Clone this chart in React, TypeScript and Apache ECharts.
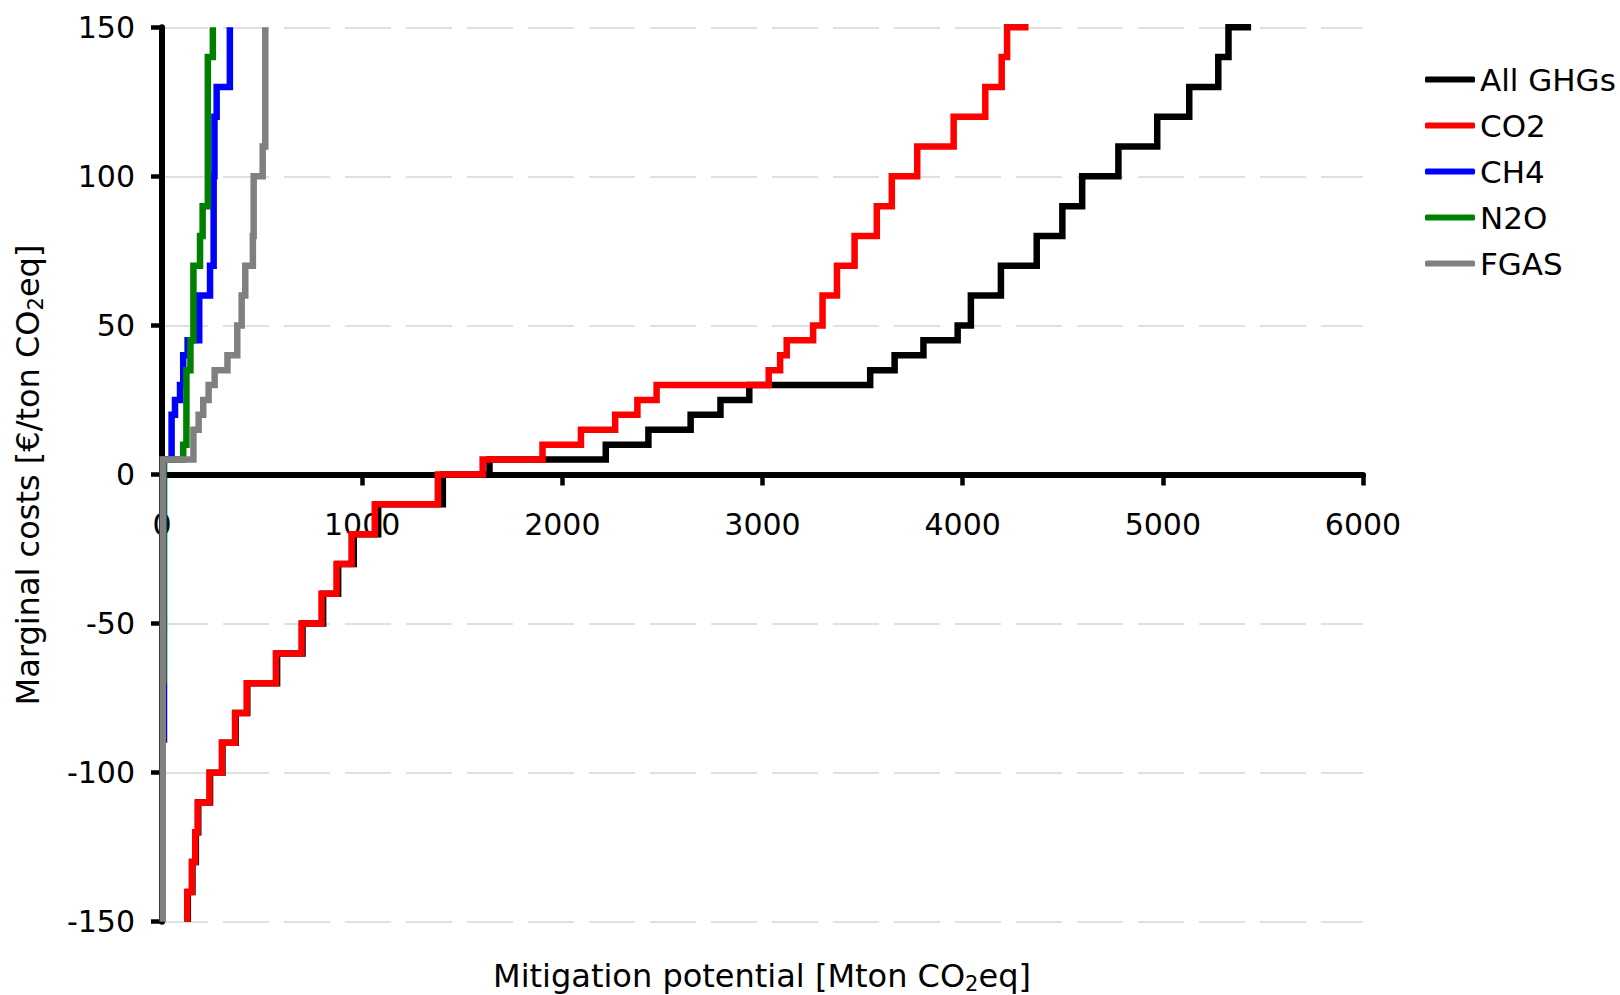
import React, { useEffect, useRef } from "react";
import * as echarts from "echarts";

// Step curves: each point = (cumulative potential where a cost level ends, cost level)
const allGhgX = [129, 152, 169, 181, 240, 302, 368, 426, 575, 702, 805, 880, 958, 1080, 1403, 1636, 2217, 2430, 2641, 2790, 2934, 3538, 3660, 3804, 3975, 4041, 4191, 4370, 4498, 4597, 4778, 4972, 5132, 5277, 5328, 5441];
const allGhgY = [-150, -140, -130, -120, -110, -100, -90, -80, -70, -60, -50, -40, -30, -20, -10, 0, 5, 10, 15, 20, 25, 30, 35, 40, 45, 50, 60, 70, 80, 90, 100, 110, 120, 130, 140, 150];

const co2X = [126, 149, 166, 178, 237, 299, 365, 423, 569, 697, 797, 872, 947, 1063, 1378, 1602, 1901, 2093, 2264, 2375, 2471, 3031, 3088, 3121, 3253, 3300, 3372, 3460, 3571, 3646, 3773, 3955, 4113, 4195, 4222, 4329];
const co2Y = [-150, -140, -130, -120, -110, -100, -90, -80, -70, -60, -50, -40, -30, -20, -10, 0, 5, 10, 15, 20, 25, 30, 35, 40, 45, 50, 60, 70, 80, 90, 100, 110, 120, 130, 140, 150];

const ch4X = [10, 48, 65, 90, 106, 128, 186, 240, 258, 262, 273, 339, 339];
const ch4Y = [-90, 5, 20, 25, 30, 40, 45, 60, 70, 100, 120, 130, 150];

const n2oX = [9, 106, 122, 142, 157, 190, 203, 229, 254, 254];
const n2oY = [-70, 5, 10, 35, 45, 70, 80, 90, 140, 150];

const fgasX = [4, 157, 183, 206, 233, 263, 327, 376, 398, 416, 454, 458, 503, 516, 516];
const fgasY = [-150, 5, 15, 20, 25, 30, 35, 40, 50, 60, 70, 80, 100, 110, 150];

const seriesNames = ["All GHGs", "CO2", "CH4", "N2O", "FGAS"];
const seriesColors = ["#000000", "#ff0000", "#0000ff", "#008000", "#808080"];
const seriesXs = [allGhgX, co2X, ch4X, n2oX, fgasX];
const seriesYs = [allGhgY, co2Y, ch4Y, n2oY, fgasY];

const xMin = 0, xMax = 6000, xInterval = 1000;
const yMin = -150, yMax = 150, yInterval = 50;

const xTitle = "Mitigation potential [Mton CO{sub|2}eq]";
const yTitle = "Marginal costs [€/ton CO{sub|2}eq]";

function pairs(xs: number[], ys: number[]) {
  return xs.map((x, i) => [x, ys[i]]);
}

export default function App() {
  const ref = useRef<HTMLDivElement>(null);
  useEffect(() => {
    if (!ref.current) return;
    const chart = echarts.init(ref.current, null, { renderer: "svg" });
    const font = "DejaVu Sans";
    const titleStyle = (text: string) => ({
      text,
      fontSize: 32,
      fontFamily: font,
      fill: "#000",
      align: "center",
      verticalAlign: "middle",
      textAlign: "center",
      textVerticalAlign: "middle",
      lineHeight: 36,
      rich: {
        sub: { fontSize: 21, lineHeight: 20, verticalAlign: "bottom", fontFamily: font, fill: "#000" },
      },
    });
    const plain = (v: number) => String(v);
    const gridLeft = 162, gridRight = 257, gridTop = 27.3, gridBottom = 73.3;
    const zeroPx = 474.5; // pixel row of cost 0, where the x axis line sits
    chart.setOption({
      animation: false,
      backgroundColor: "#ffffff",
      textStyle: { fontFamily: font },
      grid: [
        { left: gridLeft, right: gridRight, top: gridTop, bottom: gridBottom, containLabel: false, outerBoundsMode: "none" },
        { left: gridLeft, right: gridRight, top: gridTop, bottom: 995 - zeroPx, containLabel: false, outerBoundsMode: "none" },
      ],
      xAxis: [
        {
          type: "value",
          gridIndex: 0,
          min: xMin,
          max: xMax,
          interval: xInterval,
          axisLine: { onZero: true, lineStyle: { color: "#000", width: 6 } },
          axisTick: { show: true, length: 11, lineStyle: { color: "#000", width: 4.5 } },
          axisLabel: { show: false },
          splitLine: { show: false },
        },
        {
          type: "value",
          gridIndex: 1,
          min: xMin,
          max: xMax,
          interval: xInterval,
          axisLine: { show: false, onZero: false },
          axisTick: { show: false },
          axisLabel: { fontSize: 30, color: "#000", margin: 35, fontFamily: font, formatter: plain },
          splitLine: { show: false },
        },
      ],
      yAxis: [
        {
          type: "value",
          gridIndex: 0,
          min: yMin,
          max: yMax,
          interval: yInterval,
          axisLine: { show: true, onZero: true, lineStyle: { color: "#000", width: 6 } },
          axisTick: { show: true, length: 11, lineStyle: { color: "#000", width: 4.5 } },
          axisLabel: { fontSize: 30, color: "#000", margin: 27, fontFamily: font, formatter: plain },
          splitLine: { show: true, lineStyle: { type: [46, 15], color: "#d6d6d6", width: 1.5 } },
        },
        {
          type: "value",
          gridIndex: 1,
          min: 0,
          max: 1,
          show: false,
        },
      ],
      legend: {
        orient: "vertical",
        left: 1420,
        top: 59,
        itemWidth: 50,
        itemHeight: 6,
        itemGap: 15,
        icon: "roundRect",
        selectedMode: false,
        textStyle: { fontSize: 31, color: "#000", fontFamily: font, lineHeight: 30 },
        data: seriesNames,
      },
      series: seriesNames.map((name, i) => ({
        name,
        type: "line",
        xAxisIndex: 0,
        yAxisIndex: 0,
        step: "start",
        data: pairs(seriesXs[i], seriesYs[i]),
        showSymbol: false,
        symbol: "none",
        clip: true,
        lineStyle: { color: seriesColors[i], width: 6.5, join: "miter", cap: "butt" },
        itemStyle: { color: seriesColors[i] },
      })),
      graphic: [
        { type: "text", x: 762, y: 976, style: titleStyle(xTitle) },
        { type: "text", x: 28, y: 475, rotation: Math.PI / 2, style: titleStyle(yTitle) },
      ],
    });
    return () => chart.dispose();
  }, []);
  return (
    <div
      ref={ref}
      style={{ position: "fixed", left: 0, top: 0, width: 1620, height: 995, background: "#fff" }}
    />
  );
}
